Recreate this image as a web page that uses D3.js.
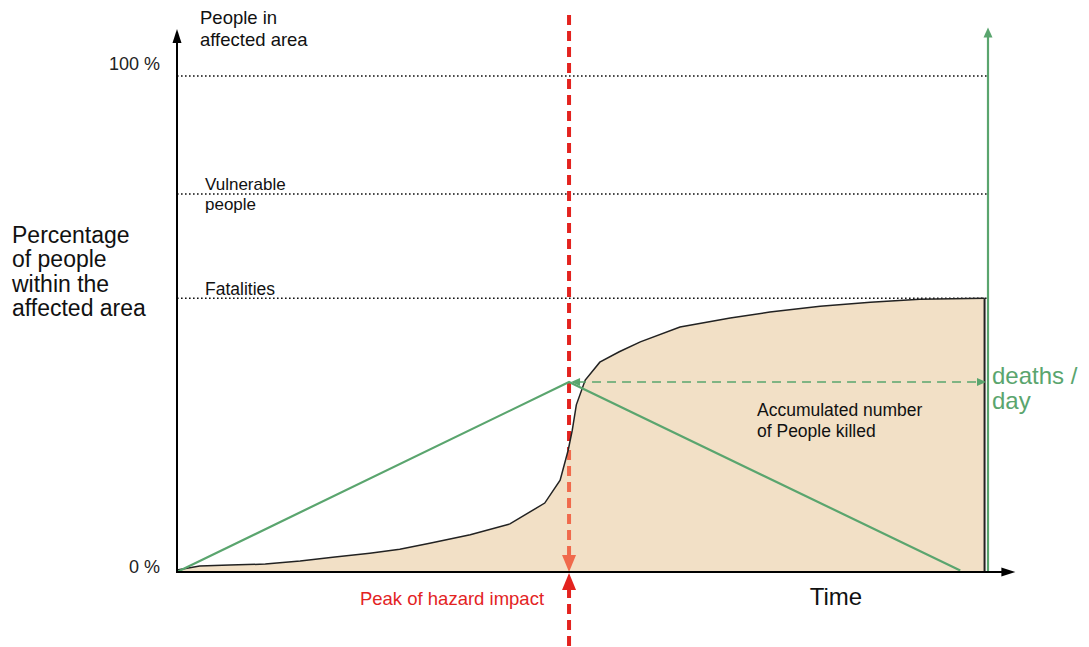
<!DOCTYPE html>
<html>
<head>
<meta charset="utf-8">
<script src="https://cdn.jsdelivr.net/npm/d3@7"></script>
<style>
  body { margin: 0; background: #fff; }
  text { font-family: "Liberation Sans", Arial, Helvetica, sans-serif; }
</style>
</head>
<body>
<div id="chart"></div>
<script>
// accumulated fatalities curve (time 0..100, % of people)
var curveTime = [0, 2.8, 6.5, 10.9, 15.2, 19.5, 23.8, 27.5, 31.2, 36.2, 41.1, 45.4, 47.3, 48.3, 48.8, 49.3, 50.4, 52.2, 54.6, 57.2, 62.1, 68.3, 73.2, 79.4, 85.6, 91.7, 99.7];
var curveValue = [0.4, 1.2, 1.4, 1.6, 2.2, 3.0, 3.8, 4.6, 5.8, 7.5, 9.7, 13.9, 18.5, 24.6, 28.6, 33.7, 38.7, 42.3, 44.4, 46.4, 49.4, 51.2, 52.4, 53.6, 54.4, 55.0, 55.2];

// deaths per day (green triangle)
var rateTime = [0, 48.4, 96.7];
var rateValue = [0, 38.3, 0.3];

// reference levels
var refLabels = [["People in", "affected area"], ["Vulnerable", "people"], ["Fatalities"]];
var refValues = [100, 76.2, 55.2];

var yTickValues = [0, 100];
var yTickLabels = ["0 %", "100 %"];

var peakTime = 48.4;
var endTime = 100;

var width = 1089, height = 647;
var x = d3.scaleLinear().domain([0, 100]).range([177, 987]);
var y = d3.scaleLinear().domain([0, 100]).range([572, 76]);

var svg = d3.select('#chart').append('svg')
  .attr('width', width)
  .attr('height', height);

var red = '#e3231f', redLight = '#f06a4c', green = '#5aa56e', beige = '#f2e0c6';

function arrow(px, py, dir, len, half, color) {
  // triangle with tip at (px, py), pointing dir
  var p;
  if (dir === 'up') p = [[px, py], [px - half, py + len], [px + half, py + len]];
  if (dir === 'down') p = [[px, py], [px - half, py - len], [px + half, py - len]];
  if (dir === 'left') p = [[px, py], [px + len, py - half], [px + len, py + half]];
  if (dir === 'right') p = [[px, py], [px - len, py - half], [px - len, py + half]];
  svg.append('path')
    .attr('d', 'M' + p.join('L') + 'Z')
    .attr('fill', color);
}

function multiText(lines, px, py, size, gap, color, anchor) {
  var t = svg.append('text')
    .attr('x', px).attr('y', py)
    .attr('font-size', size)
    .attr('text-anchor', anchor || 'start')
    .attr('fill', color);
  lines.forEach(function(s, j) {
    t.append('tspan').attr('x', px).attr('dy', j === 0 ? 0 : gap).text(s);
  });
  return t;
}

var curve = curveTime.map(function(t, i) { return {t: t, v: curveValue[i]}; });
var rate = rateTime.map(function(t, i) { return {t: t, v: rateValue[i]}; });

// reference dotted lines
svg.selectAll('.ref').data(refValues).enter().append('line')
  .attr('x1', x(0)).attr('x2', x(endTime))
  .attr('y1', function(d) { return y(d); })
  .attr('y2', function(d) { return y(d); })
  .attr('stroke', '#111')
  .attr('stroke-width', 1.6)
  .attr('stroke-dasharray', '1.6,2.4');

// red dashed peak line (upper part)
var peakVal = 24.6;
svg.append('line')
  .attr('x1', x(peakTime)).attr('x2', x(peakTime))
  .attr('y1', 15).attr('y2', y(peakVal))
  .attr('stroke', red).attr('stroke-width', 4)
  .attr('stroke-dasharray', '10,6');

// area of accumulated deaths
var area = d3.area()
  .x(function(d) { return x(d.t); })
  .y0(y(0))
  .y1(function(d) { return y(d.v); });
svg.append('path')
  .datum(curve)
  .attr('d', area)
  .attr('fill', beige);

// lower part of peak line (inside area)
svg.append('line')
  .attr('x1', x(peakTime)).attr('x2', x(peakTime))
  .attr('y1', y(peakVal)).attr('y2', y(0) - 14)
  .attr('stroke', redLight).attr('stroke-width', 4)
  .attr('stroke-dasharray', '10,6');
arrow(x(peakTime), y(0), 'down', 17, 7, redLight);

// below axis
svg.append('line')
  .attr('x1', x(peakTime)).attr('x2', x(peakTime))
  .attr('y1', y(0) + 16).attr('y2', height)
  .attr('stroke', red).attr('stroke-width', 4)
  .attr('stroke-dasharray', '10,6');
arrow(x(peakTime), y(0) + 1, 'up', 17, 7, red);

// curve outline
var line = d3.line()
  .x(function(d) { return x(d.t); })
  .y(function(d) { return y(d.v); });
svg.append('path')
  .datum(curve)
  .attr('d', line)
  .attr('fill', 'none')
  .attr('stroke', '#222')
  .attr('stroke-width', 1.5);
svg.append('line')
  .attr('x1', x(curveTime[curveTime.length - 1])).attr('x2', x(curveTime[curveTime.length - 1]))
  .attr('y1', y(curveValue[curveValue.length - 1])).attr('y2', y(0))
  .attr('stroke', '#222').attr('stroke-width', 2);

// green deaths/day line
svg.append('path')
  .datum(rate)
  .attr('d', line)
  .attr('fill', 'none')
  .attr('stroke', green)
  .attr('stroke-width', 2.2);

// green dashed horizontal
svg.append('line')
  .attr('x1', x(peakTime) + 8).attr('x2', x(endTime) - 8)
  .attr('y1', y(rateValue[1])).attr('y2', y(rateValue[1]))
  .attr('stroke', green).attr('stroke-width', 1.6)
  .attr('stroke-dasharray', '9,6');
arrow(x(peakTime) + 2, y(rateValue[1]), 'left', 9, 4, green);
arrow(x(endTime) - 1, y(rateValue[1]), 'right', 9, 4, green);

// green vertical axis
svg.append('line')
  .attr('x1', x(endTime) + 1).attr('x2', x(endTime) + 1)
  .attr('y1', y(0)).attr('y2', y(108))
  .attr('stroke', green).attr('stroke-width', 2.2);
arrow(x(endTime) + 1, y(109.8), 'up', 10, 4.5, green);

// axes
svg.append('line')
  .attr('x1', x(0)).attr('x2', x(0))
  .attr('y1', y(0) + 1).attr('y2', y(107))
  .attr('stroke', '#000').attr('stroke-width', 2);
arrow(x(0), y(109.5), 'up', 14, 4.5, '#000');
svg.append('line')
  .attr('x1', x(0) - 1).attr('x2', x(102))
  .attr('y1', y(0)).attr('y2', y(0))
  .attr('stroke', '#000').attr('stroke-width', 2);
arrow(x(103.5), y(0), 'right', 14, 4.5, '#000');

// y tick labels
var yAxis = d3.axisLeft(y)
  .tickValues(yTickValues)
  .tickFormat(function(d, i) { return yTickLabels[i]; })
  .tickSize(0)
  .tickPadding(17);
var gy = svg.append('g')
  .attr('transform', 'translate(' + x(0) + ',0)')
  .call(yAxis);
gy.select('.domain').remove();
gy.selectAll('text')
  .style('font-family', '"Liberation Sans", Arial, sans-serif')
  .style('font-size', '18px')
  .attr('fill', '#222');
gy.selectAll('.tick').filter(function(d) { return d === 100; })
  .select('text').attr('dy', '-0.35em');
gy.selectAll('.tick').filter(function(d) { return d === 0; })
  .select('text').attr('dy', '0em');

// reference labels
multiText(refLabels[0], x(0) + 23, y(100) - 52, 18.5, 22, '#111');
multiText(refLabels[1], x(0) + 28, y(refValues[1]) - 4, 17, 20, '#111');
multiText(refLabels[2], x(0) + 28, y(refValues[2]) - 3, 17.5, 20, '#111');

// y axis title
multiText(["Percentage", "of people", "within the", "affected area"], 12, 243, 23, 24.3, '#111');

// deaths / day
multiText(["deaths /", "day"], x(endTime) + 5, 384, 24, 25, green);

// accumulated label
multiText(["Accumulated number", "of People killed"], 757, 416, 17.5, 21, '#111');

// bottom labels
svg.append('text')
  .attr('x', 836).attr('y', 605)
  .attr('text-anchor', 'middle')
  .attr('font-size', 24)
  .attr('fill', '#111')
  .text('Time');
svg.append('text')
  .attr('x', 452).attr('y', 605)
  .attr('text-anchor', 'middle')
  .attr('font-size', 18.5)
  .attr('fill', red)
  .text('Peak of hazard impact');
</script>
</body>
</html>
